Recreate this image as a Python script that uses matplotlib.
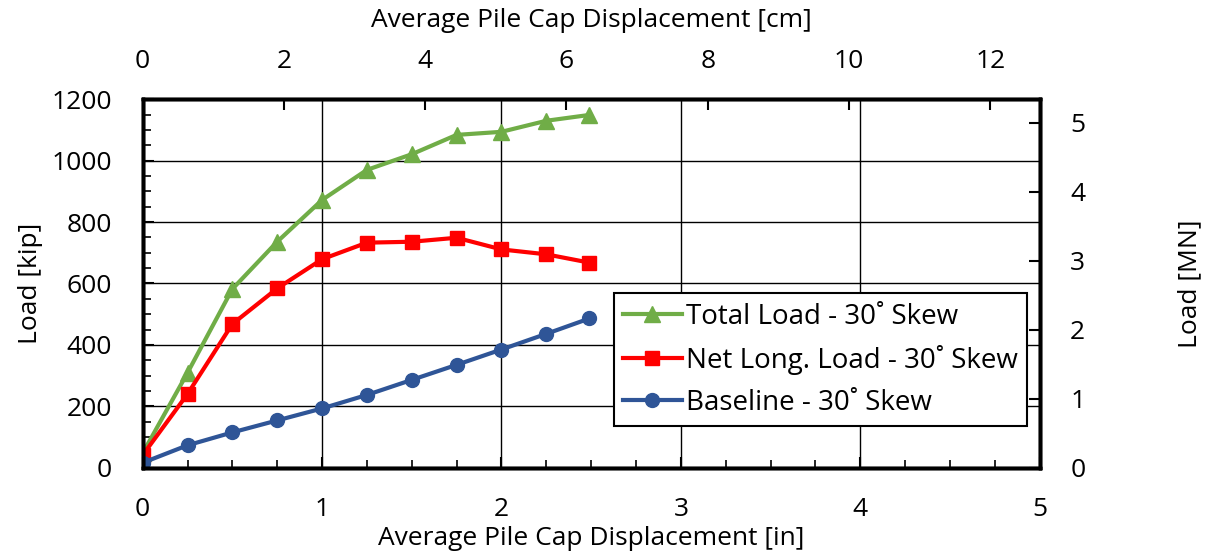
import matplotlib
matplotlib.use("Agg")
import matplotlib.pyplot as plt
from matplotlib.ticker import MultipleLocator

plt.rcParams['font.family'] = ['Open Sans', 'DejaVu Sans']

disp_in = [0, 0.25, 0.5, 0.75, 1.0, 1.25, 1.5, 1.75, 2.0, 2.25, 2.49]
total_load = [47, 309, 582, 736, 872, 970, 1021, 1084, 1094, 1130, 1149]
net_long = [41, 240, 468, 584, 679, 733, 736, 749, 711, 695, 668]
baseline = [16, 73, 115, 154, 193, 237, 286, 335, 385, 436, 486]

labels = ["Total Load - 30˚ Skew", "Net Long. Load - 30˚ Skew", "Baseline - 30˚ Skew"]
colors = ["#70AD47", "#FF0000", "#2F5597"]

fig = plt.figure(figsize=(12.12, 5.59), dpi=100)
ax = fig.add_axes([0.1177, 0.1633, 0.7401, 0.6591])
fs = 19

ax.plot(disp_in, total_load, color=colors[0], lw=3, marker='^', ms=11, label=labels[0])
ax.plot(disp_in, net_long, color=colors[1], lw=3, marker='s', ms=10, label=labels[1])
ax.plot(disp_in, baseline, color=colors[2], lw=3, marker='o', ms=10, label=labels[2])

ax.set_xlim(0, 5)
ax.set_ylim(0, 1200)
ax.xaxis.set_major_locator(MultipleLocator(1))
ax.xaxis.set_minor_locator(MultipleLocator(0.25))
ax.yaxis.set_major_locator(MultipleLocator(200))
ax.yaxis.set_minor_locator(MultipleLocator(50))
ax.grid(True, which='major', color='black', lw=1)
ax.tick_params(which='both', direction='in', labelsize=fs, top=False, right=False)
ax.tick_params(which='major', length=8, width=1.5)
ax.tick_params(which='minor', length=6, width=1.2)
ax.tick_params(axis='x', which='both', pad=21)
ax.tick_params(axis='y', which='both', pad=22)
for s in ax.spines.values():
    s.set_linewidth(2.5)
ax.set_xlabel("Average Pile Cap Displacement [in]", fontsize=fs, labelpad=3)
ax.set_ylabel("Load [kip]", fontsize=fs, labelpad=6)

# top axis in cm
axt = ax.twiny()
axt.set_xlim(0, 5 * 2.54)
axt.xaxis.set_major_locator(MultipleLocator(2))
axt.tick_params(which='both', direction='in', labelsize=fs, length=8, width=1.5, pad=18)
axt.set_xlabel("Average Pile Cap Displacement [cm]", fontsize=fs, labelpad=16)

# right axis in MN
axr = ax.twinx()
axr.set_ylim(0, 1200 * 4.44822 / 1000)
axr.yaxis.set_major_locator(MultipleLocator(1))
axr.tick_params(which='both', direction='in', labelsize=fs, length=8, width=1.5, pad=22)
axr.set_ylabel("Load [MN]", fontsize=fs, labelpad=66)
for a in (axt, axr):
    for s in a.spines.values():
        s.set_linewidth(2.5)

leg = ax.legend(loc='upper left', bbox_to_anchor=(0.525, 0.474), fontsize=20,
                frameon=True, fancybox=False, edgecolor='black', framealpha=1,
                borderpad=0.35, handlelength=2.1, handletextpad=0.15, labelspacing=0.5,
                borderaxespad=0)
leg.get_frame().set_linewidth(1.5)
leg.set_zorder(10)

fig.savefig("out.png", dpi=100)
